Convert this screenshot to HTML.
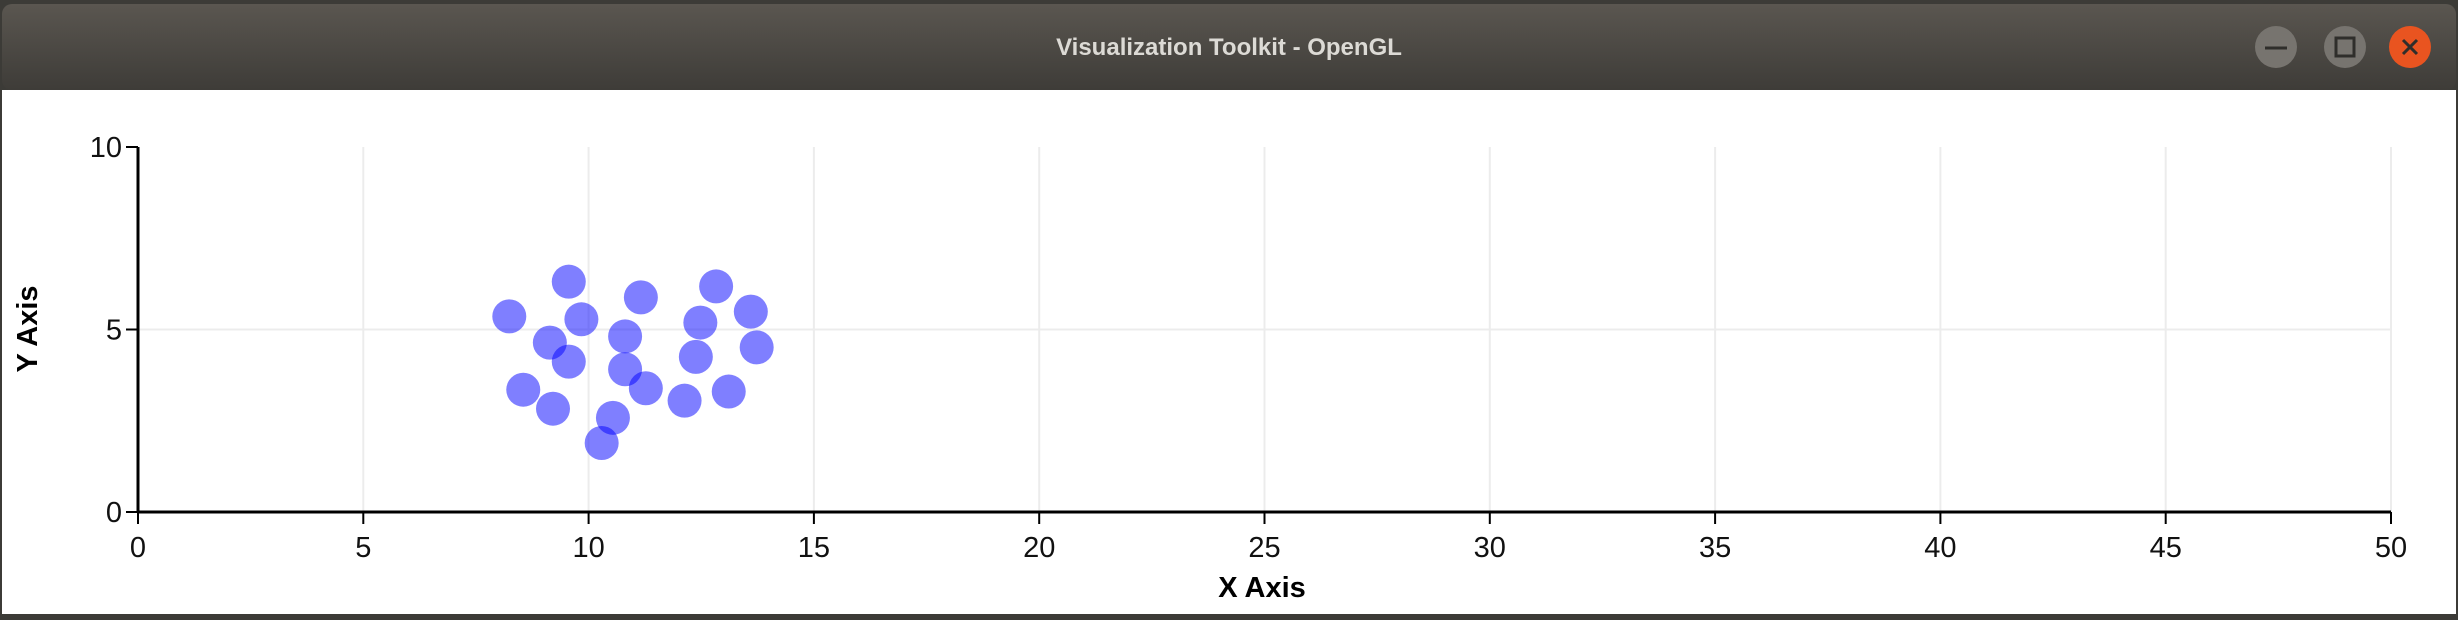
<!DOCTYPE html>
<html><head><meta charset="utf-8"><style>
html,body{margin:0;padding:0;width:2458px;height:620px;overflow:hidden;background:#fff;font-family:"Liberation Sans",sans-serif}
</style></head><body>
<svg width="2458" height="620" viewBox="0 0 2458 620" xmlns="http://www.w3.org/2000/svg">
<defs><linearGradient id="tb" x1="0" y1="0" x2="0" y2="1"><stop offset="0" stop-color="#5a5650"/><stop offset="1" stop-color="#3e3c38"/></linearGradient></defs>
<rect x="0" y="0" width="2458" height="620" fill="#3c3b37"/>
<rect x="2" y="4" width="2454" height="86" rx="10" fill="url(#tb)"/>
<rect x="2" y="90" width="2454" height="524" fill="#ffffff"/>
<text x="1229" y="55" text-anchor="middle" font-size="24" font-weight="bold" fill="#dcdad5">Visualization Toolkit - OpenGL</text>
<circle cx="2276" cy="47" r="21" fill="#77746f"/>
<line x1="2265" y1="48" x2="2287" y2="48" stroke="#2f2e2b" stroke-width="3"/>
<circle cx="2345" cy="47" r="21" fill="#77746f"/>
<rect x="2336" y="38" width="18" height="18" fill="none" stroke="#2f2e2b" stroke-width="3"/>
<circle cx="2410" cy="47" r="21" fill="#e95420"/>
<path d="M2403 40 L2417 54 M2417 40 L2403 54" stroke="#2f2e2b" stroke-width="3"/>
<g id="chart"></g>
</svg>
<script>
const xTicks=[0,5,10,15,20,25,30,35,40,45,50];
const yTicks=[0,5,10];
const xs=[8.24,9.56,11.16,12.83,13.6,9.84,9.14,10.81,12.48,13.73,9.56,12.38,10.81,8.55,11.27,12.13,13.11,9.21,10.54,10.29];
const ys=[5.36,6.31,5.88,6.18,5.49,5.28,4.64,4.81,5.19,4.51,4.12,4.25,3.91,3.35,3.39,3.05,3.30,2.83,2.58,1.89];
const NS='http://www.w3.org/2000/svg';
const X0=138,X1=2391,Y0=512,Y1=147;
function sx(v){return X0+(v-0)/(50-0)*(X1-X0);}
function sy(v){return Y0-(v-0)/(10-0)*(Y0-Y1);}
const g=document.getElementById('chart');
function mk(tag,attrs){const e=document.createElementNS(NS,tag);for(const k in attrs)e.setAttribute(k,attrs[k]);g.appendChild(e);return e;}
xTicks.forEach(t=>{
 if(t>0){const l=mk('line',{x1:sx(t),x2:sx(t),y1:Y1,y2:Y0,stroke:'#ececec','stroke-width':2});
 
 }
});
yTicks.forEach(t=>{
 if(t>0&&t<10){const l=mk('line',{x1:X0,x2:X1,y1:sy(t),y2:sy(t),stroke:'#ececec','stroke-width':2});
 
 }
});
xs.forEach((x,i)=>{
 const c=mk('circle',{cx:sx(x),cy:sy(ys[i]),r:17,fill:'rgba(0,0,255,0.5)'});
 
 
});
const xa=mk('line',{x1:X0,x2:X1,y1:Y0,y2:Y0,stroke:'#000','stroke-width':3});


const ya=mk('line',{x1:X0,x2:X0,y1:Y1,y2:Y0,stroke:'#000','stroke-width':3});


xTicks.forEach(t=>{
 mk('line',{x1:sx(t),x2:sx(t),y1:Y0,y2:Y0+12,stroke:'#000','stroke-width':2});
 const tx=mk('text',{x:sx(t),y:Y0+45,'text-anchor':'middle','font-size':29,fill:'#111'});
 tx.textContent=t;
 
 
});
yTicks.forEach(t=>{
 mk('line',{x1:X0-12,x2:X0,y1:sy(t),y2:sy(t),stroke:'#000','stroke-width':2});
 const tx=mk('text',{x:X0-16,y:sy(t)+10,'text-anchor':'end','font-size':29,fill:'#111'});
 tx.textContent=t;
 
 
});
const xt=mk('text',{x:1262,y:597,'text-anchor':'middle','font-size':29,'font-weight':'bold',fill:'#000'});
xt.textContent='X Axis';


const yt=mk('text',{x:0,y:0,'text-anchor':'middle','font-size':29,'font-weight':'bold',fill:'#000',transform:'translate(37,329) rotate(-90)'});
yt.textContent='Y Axis';


</script>
</body></html>
